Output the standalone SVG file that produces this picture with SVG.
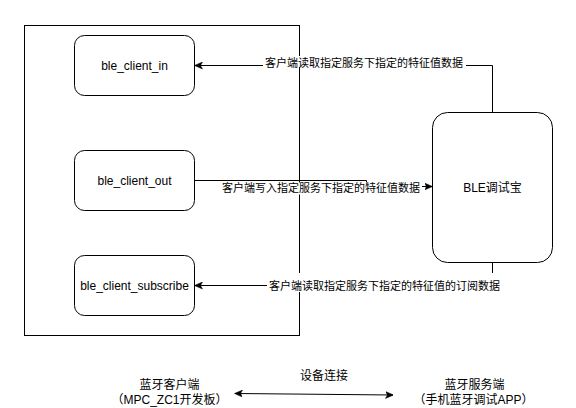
<svg xmlns="http://www.w3.org/2000/svg" width="576" height="408" viewBox="0 0 576 408">
<defs>
<style>
.box{fill:#fff;stroke:#000;stroke-width:1}
.edge{fill:none;stroke:#000;stroke-width:1}
text{font-family:"Liberation Sans","Noto Sans CJK SC",Arial,sans-serif;fill:#000;text-anchor:middle}
.t12{font-size:12px}
.t11{font-size:11px}
.lblbg{fill:#fff;stroke:none}
</style>
<marker id="arr" viewBox="0 0 8 8" refX="7.5" refY="4" markerWidth="8" markerHeight="8" markerUnits="userSpaceOnUse" orient="auto-start-reverse">
<path d="M0,0.5 L8,4 L0,7.5 L2,4 z" fill="#000" stroke="#000" stroke-width="0.5"/>
</marker>
</defs>
<rect fill="#fff" width="576" height="408"/>
<g id="container">
<rect class="box" x="24.5" y="25.5" width="275" height="310"/>
</g>
<g id="connectors">
<path class="edge" d="M492.5,112.5 V65.5 H195" marker-end="url(#arr)"/>
<path class="edge" d="M194.5,180.5 H366.5 V186.5 H432" marker-end="url(#arr)"/>
<path class="edge" d="M492.5,262.5 V285.5 H195" marker-end="url(#arr)"/>
<path class="edge" d="M235,393.5 L393,395" marker-start="url(#arr)" marker-end="url(#arr)"/>
<rect class="lblbg" x="263" y="56" width="203" height="11"/>
<text class="t11" x="364" y="66.7">客户端读取指定服务下指定的特征值数据</text>
<rect class="lblbg" x="220" y="182.5" width="202" height="12"/>
<text class="t11" x="321" y="192">客户端写入指定服务下指定的特征值数据</text>
<rect class="lblbg" x="267" y="273" width="235" height="19"/>
<text class="t11" x="384.5" y="289.6">客户端读取指定服务下指定的特征值的订阅数据</text>
</g>
<g id="ble_client_in">
<rect class="box" x="74.5" y="35.5" width="120" height="60" rx="10" ry="10"/>
<text class="t12" x="134.5" y="69.8">ble_client_in</text>
</g>
<g id="ble_client_out">
<rect class="box" x="74.5" y="150.5" width="120" height="60" rx="10" ry="10"/>
<text class="t12" x="134.5" y="184.8">ble_client_out</text>
</g>
<g id="ble_client_subscribe">
<rect class="box" x="74.5" y="255.5" width="120" height="60" rx="10" ry="10"/>
<text class="t12" x="134.5" y="289.8">ble_client_subscribe</text>
</g>
<g id="ble_debug">
<rect class="box" x="432.5" y="112.5" width="120" height="150" rx="15" ry="15"/>
<text class="t12" x="492.5" y="191.5">BLE调试宝</text>
</g>
<g id="client_label">
<text class="t12" x="169.5" y="388.7">蓝牙客户端</text>
<text class="t12" x="169.5" y="403.5">（MPC_ZC1开发板）</text>
</g>
<g id="server_label">
<text class="t12" x="474.5" y="388.7">蓝牙服务端</text>
<text class="t12" x="473.5" y="403.5">（手机蓝牙调试APP）</text>
</g>
<g id="connect_label">
<text class="t12" x="324" y="379.5">设备连接</text>
</g>
</svg>
